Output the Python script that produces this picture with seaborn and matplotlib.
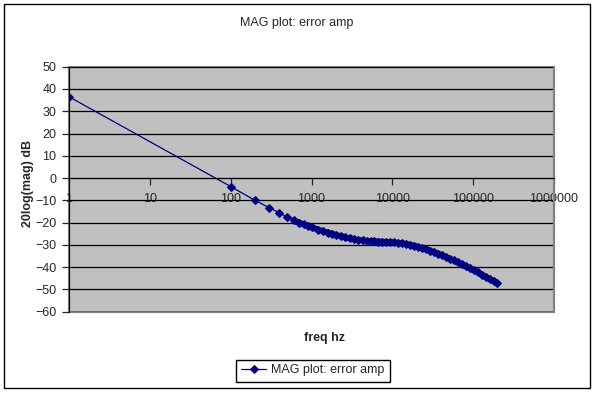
import matplotlib
matplotlib.use("Agg")
import matplotlib.pyplot as plt
import matplotlib.ticker as mticker
from matplotlib.patches import Rectangle
import seaborn as sns

# frequency (Hz) and magnitude (dB)
freq_hz = [1, 100, 200, 300, 400, 500, 600, 700, 800, 900, 1000,
           1200, 1400, 1600, 1800, 2000, 2300, 2600, 3000, 3400, 3800,
           4300, 4800, 5400, 6000, 6700, 7500, 8400, 9400, 10500, 11800,
           13200, 14800, 16600, 18600, 20800, 23300, 26100, 29200, 32700,
           36600, 41000, 45900, 51400, 57600, 64500, 72200, 80900, 90600,
           101500, 113700, 127300, 142600, 159700, 178900, 200000]
mag_db = [36.5, -3.8, -10.0, -13.3, -15.6, -17.6, -19.0, -20.0, -20.8, -21.5, -22.1,
          -23.1, -23.9, -24.5, -25.0, -25.5, -26.1, -26.6, -27.1, -27.5, -27.8,
          -28.0, -28.2, -28.3, -28.4, -28.5, -28.6, -28.7, -28.8, -28.9, -29.1,
          -29.3, -29.6, -30.0, -30.4, -30.9, -31.4, -32.0, -32.6, -33.2,
          -33.9, -34.6, -35.4, -36.2, -37.0, -37.9, -38.7, -39.6, -40.5,
          -41.4, -42.3, -43.3, -44.3, -45.3, -46.3, -47.3]

x_ticks = [1, 10, 100, 1000, 10000, 100000, 1000000]
y_ticks = [-60, -50, -40, -30, -20, -10, 0, 10, 20, 30, 40, 50]

sns.set_style("white")
plt.rcParams['font.family'] = ['Liberation Sans', 'DejaVu Sans']
plt.rcParams['font.size'] = 9

fig = plt.figure(figsize=(5.95, 3.93), dpi=100)
ax = fig.add_axes([69 / 595, 1 - 311.7 / 393, (554 - 69) / 595, (311.7 - 66.7) / 393])
ax.set_facecolor('#c0c0c0')
ax.patch.set_edgecolor('#808080')
ax.patch.set_linewidth(1.5)
ax.set_xscale('log')

# the measured points are so close together above ~600 Hz that the markers merge into a band
dense = [i for i, f in enumerate(freq_hz) if f >= 600]
sns.lineplot(x=[freq_hz[i] for i in dense], y=[mag_db[i] for i in dense], ax=ax,
             color='#000080', linewidth=4.3, legend=False)
sns.lineplot(x=freq_hz, y=mag_db, ax=ax, color='#000080', linewidth=0.9,
             marker='D', markersize=4.5, markeredgecolor='#000080',
             label='MAG plot: error amp', legend=False)

ax.set_xlim(1, 1000000)
ax.set_ylim(-60, 50)
ax.set_yticks(y_ticks)
ax.set_xticks(x_ticks)
ax.xaxis.set_major_formatter(mticker.FuncFormatter(lambda v, p: f"{int(round(v))}"))
ax.xaxis.set_minor_locator(mticker.NullLocator())

ax.yaxis.grid(True, color='black', linewidth=0.9)
ax.xaxis.grid(False)
ax.set_axisbelow(True)

ax.spines['bottom'].set_position(('data', 0))
ax.spines['bottom'].set_color('black')
ax.spines['left'].set_color('black')
ax.spines['top'].set_visible(False)
ax.spines['right'].set_color('#808080')
ax.spines['right'].set_linewidth(1.5)
ax.tick_params(axis='x', direction='out', length=5, width=0.9, pad=6, bottom=True, labelsize=9)
ax.tick_params(axis='y', direction='out', length=5, width=0.9, pad=4, left=True, labelsize=9)
ax.set_xlabel('')
ax.set_ylabel('')

fig.text(297 / 595, 1 - 23 / 393, 'MAG plot: error amp', ha='center', va='center', fontsize=9)
fig.text(324 / 595, 1 - 338 / 393, 'freq hz', ha='center', va='center', fontsize=9, fontweight='bold')
fig.text(28 / 595, 1 - 183 / 393, '20log(mag) dB', ha='center', va='center', rotation=90,
         fontsize=9, fontweight='bold')

handles, labels = ax.get_legend_handles_labels()
fig.legend(handles, labels, loc='center', bbox_to_anchor=(313 / 595, 1 - 370.5 / 393),
           frameon=True, fancybox=False, edgecolor='black', framealpha=1,
           fontsize=9, handlelength=2, borderpad=0.4, handletextpad=0.4)

fig.patches.append(Rectangle((4 / 595, 1 - 388 / 393), 586 / 595, 384 / 393,
                             transform=fig.transFigure, fill=False, edgecolor='black', linewidth=1))

fig.savefig('out.png', dpi=100)
